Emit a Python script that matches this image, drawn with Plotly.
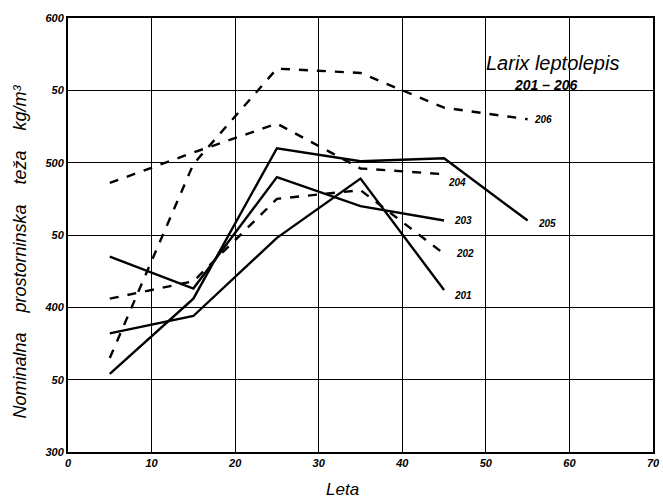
import plotly.graph_objects as go

ages = [5, 15, 25, 35, 45, 55]

s201 = [382, 394, 448, 489, 412]
s202 = [406, 418, 475, 481, 437]
s203 = [435, 413, 490, 470, 460]
s204 = [486, 507, 527, 496, 492]
s205 = [354, 406, 510, 501, 503, 460]
s206 = [365, 499, 565, 562, 538, 530]

series = [
    ("201", s201, "solid"),
    ("202", s202, "dash"),
    ("203", s203, "solid"),
    ("204", s204, "dash"),
    ("205", s205, "solid"),
    ("206", s206, "dash"),
]

y_tickvals = [300, 350, 400, 450, 500, 550, 600]
y_ticktext = ["300", "50", "400", "50", "500", "50", "600"]
x_tickvals = [0, 10, 20, 30, 40, 50, 60, 70]
x_ticktext = ["0", "10", "20", "30", "40", "50", "60", "70"]

label_offsets = {"201": (8, -6), "202": (10, 0), "203": (8, 0),
                 "204": (2, -8), "205": (8, -3), "206": (4, 0)}

FONT = "Liberation Sans"

W, H = 663, 503
L, R, T, B = 68, 3, 18, 51
pw, ph = W - L - R, H - T - B


def px(xp):
    return (xp - L) / pw


def py(yp):
    return (H - B - yp) / ph


fig = go.Figure()
for name, vals, dash in series:
    xs = ages[:len(vals)]
    fig.add_trace(go.Scatter(x=xs, y=vals, mode="lines", name=name,
                             line=dict(color="black", width=2.4, dash=dash),
                             showlegend=False, hoverinfo="skip"))
    dx, dy = label_offsets[name]
    fig.add_annotation(x=xs[-1], y=vals[-1], xref="x", yref="y", text=name,
                       showarrow=False, xanchor="left", yanchor="middle",
                       xshift=dx, yshift=dy,
                       font=dict(family=FONT, size=10, color="black",
                                 style="italic", weight="bold"))

fig.add_annotation(x=px(558), y=py(63), xref="paper", yref="paper",
                   xanchor="center", yanchor="middle",
                   text="Larix leptolepis", showarrow=False,
                   font=dict(family=FONT, size=20, color="black", style="italic"))
fig.add_annotation(x=px(551), y=py(85), xref="paper", yref="paper",
                   xanchor="center", yanchor="middle",
                   text="201 – 206", showarrow=False,
                   font=dict(family=FONT, size=14, color="black",
                             style="italic", weight="bold"))
fig.add_annotation(x=px(19), y=py(252), xref="paper", yref="paper",
                   xanchor="center", yanchor="middle",
                   text="Nominalna    prostorninska    teža    kg/m³",
                   showarrow=False, textangle=-90,
                   font=dict(family=FONT, size=18, color="black", style="italic"))
fig.add_annotation(x=px(346), y=py(489), xref="paper", yref="paper",
                   xanchor="center", yanchor="middle",
                   text="Leta", showarrow=False,
                   font=dict(family=FONT, size=17, color="black", style="italic"))

fig.update_layout(
    width=W, height=H,
    margin=dict(l=L, r=R, t=T, b=B),
    plot_bgcolor="white", paper_bgcolor="white",
    font=dict(family=FONT, color="black"),
)
fig.update_xaxes(range=[0, 70], tickvals=x_tickvals, ticktext=x_ticktext,
                 showgrid=True, gridcolor="black", gridwidth=1,
                 showline=True, linecolor="black", linewidth=2, mirror=True,
                 zeroline=False, ticks="", ticklen=0, ticklabeloverflow="allow",
                 tickfont=dict(family=FONT, size=11, style="italic", weight="bold"))
fig.update_yaxes(range=[300, 600], tickvals=y_tickvals, ticktext=y_ticktext,
                 showgrid=True, gridcolor="black", gridwidth=1,
                 showline=True, linecolor="black", linewidth=2, mirror=True,
                 zeroline=False, ticks="", ticklen=0,
                 tickfont=dict(family=FONT, size=11, style="italic", weight="bold"))

fig.write_html("out.html", config={"displayModeBar": False},
               post_script="document.body.style.margin='0';")
